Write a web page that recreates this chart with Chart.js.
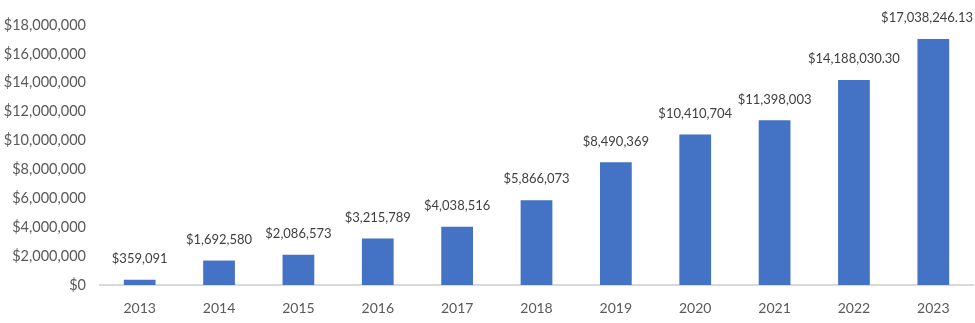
<!DOCTYPE html>
<html>
<head>
<meta charset="utf-8">
<script src="https://cdn.jsdelivr.net/npm/chart.js@4/dist/chart.umd.min.js"></script>
<style>
  html, body { margin: 0; padding: 0; background: #fff; }
  #wrap { width: 975px; height: 323px; }
</style>
</head>
<body>
<div id="wrap"><canvas id="barChart"></canvas></div>
<script>
// chart data
const years = ['2013', '2014', '2015', '2016', '2017', '2018', '2019', '2020', '2021', '2022', '2023'];
const revenue = [359091, 1692580, 2086573, 3215789, 4038516, 5866073, 8490369, 10410704, 11398003, 14188030.30, 17038246.13];
const yMax = 18000000;
const yStep = 2000000;

function money(v) {
  const dec = Number.isInteger(v) ? 0 : 2;
  return '$' + v.toLocaleString('en-US', { minimumFractionDigits: dec, maximumFractionDigits: dec });
}

// draws the value above each bar
const valueLabels = {
  id: 'valueLabels',
  afterDatasetsDraw(chart) {
    const ctx = chart.ctx;
    const meta = chart.getDatasetMeta(0);
    ctx.save();
    ctx.font = '13px Lato';
    ctx.fillStyle = '#404040';
    ctx.textAlign = 'center';
    ctx.textBaseline = 'middle';
    meta.data.forEach((bar, i) => {
      let x = bar.x;
      const txt = money(revenue[i]);
      const w = ctx.measureText(txt).width;
      // keep text inside the canvas
      if (x + w / 2 > chart.width - 2) x = chart.width - 2 - w / 2;
      ctx.fillText(txt, x, bar.y - 21);
    });
    ctx.restore();
  }
};

new Chart(document.querySelector('#barChart'), {
  type: 'bar',
  data: {
    labels: years,
    datasets: [{
      data: revenue,
      backgroundColor: '#4472C4',
      borderWidth: 0,
      barPercentage: 0.4,
      categoryPercentage: 1
    }]
  },
  options: {
    responsive: true,
    maintainAspectRatio: false,
    animation: false,
    layout: { padding: { top: 25, right: 2, left: 0, bottom: 0 } },
    plugins: {
      legend: { display: false },
      tooltip: { enabled: false }
    },
    scales: {
      x: {
        grid: { display: false, drawTicks: false },
        border: { display: true, color: '#d9d9d9', width: 2 },
        ticks: { color: '#595959', font: { family: 'Lato', size: 14 }, padding: 15 },
        afterFit(scale) { scale.height = 38; }
      },
      y: {
        min: 0,
        max: yMax,
        grid: { display: false, drawTicks: false },
        border: { display: false },
        ticks: {
          stepSize: yStep,
          color: '#595959',
          font: { family: 'Lato', size: 14.5 },
          padding: 14,
          callback: (v) => money(v)
        },
        afterFit(scale) { scale.width = 100; }
      }
    }
  },
  plugins: [valueLabels]
});
</script>
</body>
</html>
